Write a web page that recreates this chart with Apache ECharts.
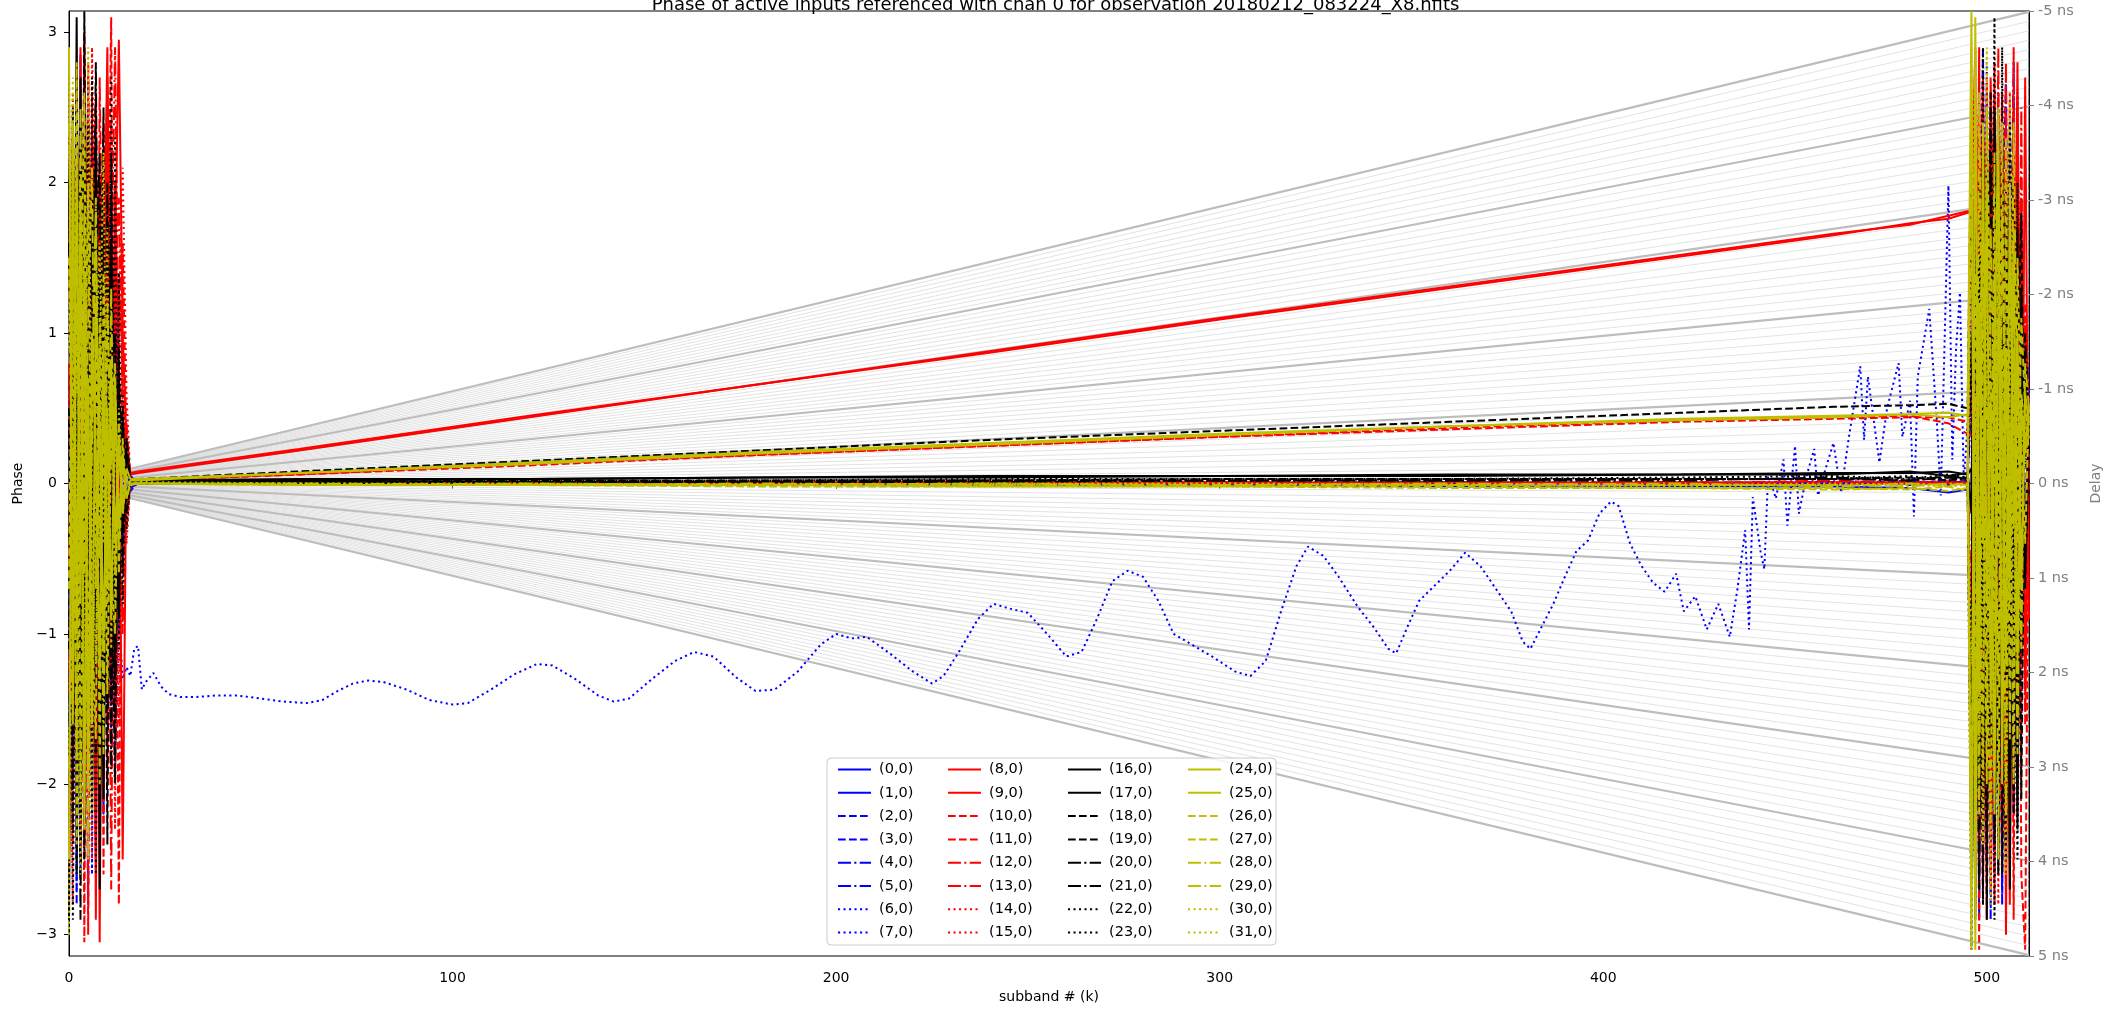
<!DOCTYPE html>
<html>
<head>
<meta charset="utf-8">
<script src="https://cdn.jsdelivr.net/npm/echarts@6/dist/echarts.min.js"></script>
<style>
  html, body { margin: 0; padding: 0; background: #fff; }
  #chart { width: 2111px; height: 1009px; }
</style>
</head>
<body>
<div id="chart"></div>
<script>
// input names, one per line in the legend
const inputNames = [];
for (let i = 0; i < 32; i++) inputNames.push('(' + i + ',0)');

// subbands where the flat middle part is sampled
const midK = [18, 60, 120, 180, 240, 300, 360, 420, 460, 480, 490, 495];

// phase at subbands 0..16 (noisy low edge)
const leftEdge = [
  [0, 0, 0, 0, 0, 0, 0, 0, 0, 0, 0, 0, 0, 0, 0, 0, 0],
  [0.4, -1.2, 2.1, -2.6, 1.5, -0.8, 2.4, -1.9, 0.6, -2.2, 1.1, -0.5, 0.9, -0.6, 0.3, -0.1, 0.05],
  [-0.9, 1.8, -2.8, 2.85, -1.4, 0.7, -2.0, 1.6, -0.3, 1.9, -1.2, 0.8, -1.5, 0.6, -0.4, 0.2, -0.05],
  [1.2, -0.4, 1.7, -2.3, 2.6, -1.1, 0.9, -2.5, 1.8, -0.6, 2.2, -1.7, 0.5, -1.0, 0.3, -0.2, 0.02],
  [-1.6, 2.3, -0.7, 1.4, -2.1, 2.7, -1.5, 0.4, -1.8, 1.3, -0.9, 1.9, -0.8, 0.7, -0.5, 0.1, -0.03],
  [0.7, -2.0, 1.3, -1.7, 0.9, -2.8, 1.6, -0.6, 2.0, -1.4, 0.6, -1.2, 1.4, -0.4, 0.2, -0.15, 0.0],
  [-0.3, 1.5, -1.9, 2.4, -0.5, 1.0, -2.6, 2.2, -1.1, 0.5, -1.8, 1.0, -0.7, 0.4, -0.25, 0.1, -0.02],
  [-2.2, 0.9, -2.7, 1.8, -1.0, 2.3, -0.8, 1.5, -2.3, 0.7, -1.6, 0.4, -1.9, -0.9, -1.30, -1.22, -1.28],
  [0.8, -1.5, 2.6, -0.9, 3.0, 0.5, 2.2, -2.9, 1.8, 0.9, 2.7, -1.2, 2.0, 0.6, -2.5, 0.3, 0.06],
  [-0.6, 2.0, -1.3, 2.9, -2.2, 1.7, 0.4, 2.5, -3.05, 1.2, 2.9, -0.4, 1.5, 2.95, 1.0, 0.25, 0.07],
  [1.9, -2.4, 0.6, 1.9, -3.05, 2.3, 1.4, 2.6, -0.8, 2.2, 1.1, 3.1, -1.7, 1.3, 0.9, -0.3, 0.02],
  [-1.4, 0.5, 2.8, -1.6, 1.1, -3.0, 2.6, 0.9, 2.0, -2.6, 1.8, 2.4, 0.7, -2.8, 1.6, 0.2, 0.01],
  [2.3, -0.8, 1.2, -2.4, 2.5, 1.0, -1.9, 1.9, 1.3, 2.4, -2.0, 1.2, 2.9, 0.8, -1.0, 0.4, 0.03],
  [-2.6, 1.4, -0.2, 2.2, -1.3, 2.8, 0.7, -2.4, 2.7, 0.6, 1.5, -2.7, 1.3, 1.9, 0.5, -0.2, 0.0],
  [0.2, 2.6, -2.1, 0.9, 1.8, -1.6, 2.9, 1.1, -2.2, 2.0, 0.4, 1.7, -2.3, 1.1, 2.1, 0.6, 0.02],
  [-0.9, -2.8, 1.6, -0.4, 2.2, 0.9, -2.5, 2.4, 0.8, -1.5, 2.6, 0.9, 1.8, -1.6, 0.8, -0.4, 0.0],
  [2.1, -1.0, 3.1, -2.2, 0.6, 1.9, -1.4, 2.3, -2.7, 0.8, -0.6, 1.6, -1.1, 0.5, -0.3, 0.2, 0.03],
  [-2.9, 1.3, -0.5, 2.7, -1.9, 0.4, 2.0, -0.9, 1.4, -2.1, 1.0, -0.8, 0.6, -0.9, 0.4, -0.1, 0.03],
  [0.5, -2.3, 1.8, -1.2, 3.14, -0.6, 1.1, -1.8, 0.3, 2.5, -1.5, 0.7, -1.3, 0.9, -0.6, 0.3, 0.02],
  [-1.1, 2.5, -2.6, 0.3, -0.9, 2.4, -2.2, 0.6, -1.2, 1.7, -2.4, 2.2, -0.5, 0.3, 0.5, -0.2, 0.01],
  [1.6, -0.3, 0.8, -2.9, 1.7, -1.3, 0.2, 2.8, -0.7, -1.6, 0.9, -1.9, 1.0, -0.4, 0.2, 0.1, 0.0],
  [-0.4, 1.1, -1.6, 2.0, -2.5, 0.9, -0.6, 1.3, 2.2, -0.9, 2.0, -0.3, -2.0, 0.7, -0.2, -0.1, 0.01],
  [2.7, -2.9, 0.4, 1.2, -0.2, -2.0, 2.7, -1.1, 0.5, 1.1, -0.4, 2.7, -1.6, 1.4, -0.8, 0.3, 0.0],
  [-1.8, 0.8, 2.3, -1.5, 2.4, -0.9, 1.5, -2.6, 1.9, -0.2, 1.3, -1.4, 2.3, -1.1, 0.6, -0.3, 0.01],
  [2.9, -1.6, 2.2, -0.8, 1.4, -2.0, 1.0, 0.2, -1.3, 0.9, -0.7, 0.8, -0.4, 0.3, -0.2, 0.1, 0.03],
  [-2.5, 2.4, -1.0, 1.9, -2.3, 0.7, -1.6, 1.2, 0.4, -1.1, 0.5, -0.9, 0.6, -0.3, 0.2, -0.1, 0.02],
  [1.5, -0.5, 2.8, -2.1, 0.3, 2.0, -0.9, -1.7, 1.1, 0.3, -1.4, 0.4, 0.8, -0.6, 0.3, -0.1, -0.01],
  [-0.7, 1.9, -2.4, 0.9, 2.6, -1.4, 0.6, 1.7, -2.0, 1.4, 0.2, -0.6, -1.0, 0.4, -0.2, 0.05, -0.01],
  [2.4, 0.3, -1.8, 2.5, -0.6, 1.1, 2.1, -0.7, 0.9, -1.8, 1.2, 0.1, 0.7, -0.4, 0.1, 0.0, 0.0],
  [-1.9, -0.9, 1.2, -0.2, 1.8, -2.5, 0.3, 1.9, -0.5, 0.6, -0.8, 1.3, -0.6, 0.2, -0.1, 0.05, 0.0],
  [0.9, 2.7, -0.4, -2.6, 1.0, 0.5, -2.2, 0.8, 1.6, -0.4, 1.7, -1.1, 0.3, -0.2, 0.15, 0.0, 0.0],
  [-3.0, 1.0, 0.6, 1.5, -1.7, 2.9, -0.3, -1.2, 0.7, 2.2, -0.3, 0.6, -0.8, 0.5, -0.1, 0.05, 0.0]
];

// phase at midK (input 7 uses waveTrack instead)
const midTracks = [
  [0, 0, 0, 0, 0, 0, 0, 0, 0, 0, 0, 0],
  [0.0, 0.0, -0.01, -0.01, -0.01, -0.01, -0.02, -0.02, -0.02, -0.03, -0.06, -0.04],
  [0.01, 0.0, 0.0, 0.01, 0.0, 0.0, 0.01, 0.0, 0.01, 0.0, 0.02, 0.0],
  [0.0, 0.01, 0.0, 0.0, 0.01, 0.0, 0.0, 0.01, 0.0, 0.02, -0.01, 0.01],
  [0.0, 0.0, 0.01, 0.0, 0.0, 0.01, 0.0, 0.0, 0.01, -0.01, 0.01, 0.0],
  [0.01, 0.0, 0.0, 0.0, 0.01, 0.0, 0.0, 0.0, -0.01, 0.01, 0.0, 0.02],
  [0.0, 0.0, 0.0, 0.01, 0.0, 0.0, 0.01, 0.0, 0.0, 0.01, 0.0, 0.0],
  null,
  [0.07, 0.22, 0.44, 0.66, 0.87, 1.09, 1.30, 1.51, 1.65, 1.73, 1.76, 1.80],
  [0.08, 0.23, 0.45, 0.66, 0.88, 1.10, 1.31, 1.52, 1.66, 1.72, 1.78, 1.81],
  [0.02, 0.06, 0.13, 0.19, 0.25, 0.31, 0.37, 0.42, 0.44, 0.45, 0.40, 0.33],
  [0.02, 0.06, 0.12, 0.19, 0.25, 0.31, 0.36, 0.41, 0.43, 0.44, 0.44, 0.41],
  [0.0, 0.01, 0.0, 0.01, 0.0, 0.01, 0.0, 0.01, 0.0, 0.01, 0.0, 0.01],
  [0.01, 0.0, 0.01, 0.0, 0.01, 0.0, 0.01, 0.0, 0.02, 0.0, 0.01, 0.0],
  [0.0, 0.0, 0.01, 0.01, 0.0, 0.0, 0.01, 0.01, 0.0, 0.02, 0.0, 0.01],
  [0.01, 0.01, 0.0, 0.0, 0.01, 0.01, 0.0, 0.0, 0.01, 0.0, 0.02, 0.0],
  [0.02, 0.02, 0.03, 0.04, 0.04, 0.05, 0.05, 0.06, 0.07, 0.07, 0.08, 0.06],
  [0.02, 0.03, 0.03, 0.04, 0.05, 0.05, 0.06, 0.06, 0.06, 0.08, 0.05, 0.07],
  [0.03, 0.08, 0.15, 0.22, 0.29, 0.35, 0.41, 0.47, 0.51, 0.52, 0.53, 0.50],
  [0.01, 0.01, 0.02, 0.02, 0.02, 0.03, 0.03, 0.03, 0.03, 0.04, 0.02, 0.04],
  [0.0, 0.01, 0.01, 0.01, 0.02, 0.02, 0.02, 0.03, 0.03, 0.02, 0.05, 0.03],
  [0.01, 0.0, 0.01, 0.01, 0.01, 0.02, 0.02, 0.02, 0.04, 0.02, 0.04, 0.02],
  [0.0, 0.01, 0.01, 0.02, 0.02, 0.02, 0.03, 0.03, 0.03, 0.05, 0.02, 0.03],
  [0.01, 0.01, 0.02, 0.02, 0.03, 0.03, 0.03, 0.04, 0.05, 0.03, 0.06, 0.04],
  [0.03, 0.07, 0.14, 0.21, 0.27, 0.33, 0.38, 0.43, 0.45, 0.46, 0.47, 0.45],
  [0.02, 0.07, 0.13, 0.20, 0.26, 0.32, 0.38, 0.42, 0.44, 0.46, 0.44, 0.46],
  [0.0, -0.01, -0.01, -0.02, -0.02, -0.02, -0.03, -0.03, -0.03, -0.04, -0.02, -0.05],
  [0.0, -0.01, -0.01, -0.01, -0.02, -0.02, -0.02, -0.03, -0.04, -0.03, -0.05, -0.03],
  [0.0, 0.0, -0.01, 0.0, -0.01, -0.01, 0.0, -0.01, -0.01, -0.02, 0.0, -0.01],
  [0.0, -0.01, 0.0, -0.01, 0.0, -0.01, -0.01, 0.0, -0.02, 0.0, -0.01, 0.0],
  [0.01, 0.0, 0.0, -0.01, 0.0, 0.0, -0.01, -0.01, 0.0, -0.01, -0.02, 0.0],
  [0.0, 0.0, -0.01, -0.01, -0.01, 0.0, -0.01, -0.02, -0.01, 0.0, -0.02, -0.01]
];

// input (7,0): the wandering dotted blue track, [subband, phase]
const waveTrack = [
  [17, -1.10], [18, -1.08], [19, -1.37], [20, -1.32], [22, -1.26], [24, -1.35], [26, -1.40], [29, -1.42],
  [33, -1.42], [38, -1.41], [44, -1.41], [50, -1.43], [56, -1.45], [62, -1.46], [66, -1.44], [70, -1.38],
  [74, -1.33], [78, -1.31], [82, -1.32], [88, -1.37], [94, -1.44], [100, -1.47], [104, -1.46], [110, -1.37],
  [116, -1.27], [122, -1.20], [126, -1.21], [132, -1.30], [138, -1.41], [142, -1.45], [146, -1.43], [152, -1.30],
  [158, -1.18], [163, -1.12], [168, -1.15], [174, -1.29], [179, -1.38], [184, -1.37], [190, -1.25], [196, -1.07],
  [200, -1.00], [204, -1.03], [208, -1.02], [214, -1.13], [220, -1.25], [225, -1.33], [228, -1.28], [232, -1.12],
  [237, -0.90], [241, -0.80], [245, -0.83], [250, -0.86], [255, -1.00], [260, -1.15], [264, -1.12], [268, -0.90],
  [272, -0.65], [276, -0.58], [280, -0.62], [284, -0.78], [288, -1.00], [292, -1.06], [298, -1.15], [304, -1.25],
  [308, -1.28], [312, -1.18], [316, -0.85], [320, -0.55], [323, -0.42], [327, -0.48], [331, -0.62], [336, -0.82],
  [340, -0.95], [344, -1.10], [346, -1.13], [349, -0.95], [352, -0.78], [356, -0.68], [360, -0.58], [364, -0.46],
  [368, -0.55], [372, -0.70], [376, -0.85], [379, -1.05], [381, -1.10], [384, -0.95], [387, -0.80], [390, -0.62],
  [393, -0.45], [396, -0.38], [399, -0.20], [402, -0.12], [404, -0.15], [407, -0.40], [410, -0.55], [413, -0.66],
  [416, -0.72], [419, -0.60], [421, -0.85], [424, -0.75], [427, -0.97], [430, -0.80], [433, -1.02], [435, -0.70],
  [437, -0.31], [438, -0.97], [439, -0.09], [441, -0.45], [442, -0.57], [443, 0.07], [445, -0.10], [447, 0.16],
  [448, -0.28], [450, 0.25], [451, -0.20], [453, 0.05], [455, 0.23], [456, -0.08], [458, 0.10], [460, 0.27],
  [462, -0.06], [464, 0.30], [467, 0.78], [468, 0.29], [469, 0.71], [472, 0.14], [474, 0.50], [477, 0.80],
  [478, 0.31], [480, 0.55], [481, -0.22], [482, 0.71], [485, 1.16], [487, 0.40], [488, -0.08], [490, 1.98],
  [491, 0.16], [492, 0.90], [493, 1.27], [494, 0.0], [495, 0.40]
];

// phase at subbands 496..511 (noisy high edge)
const rightEdge = [
  [0, 0, 0, 0, 0, 0, 0, 0, 0, 0, 0, 0, 0, 0, 0, 0],
  [-0.1, 2.1, -1.4, 0.6, -2.5, 1.8, 0.3, -1.9, 2.4, -0.7, 1.2, -2.2, 0.9, 0.5, -0.4, 0.6],
  [1.4, -2.6, 0.8, 2.9, -1.1, -0.3, 1.7, 2.2, -2.8, 0.4, -1.5, 1.9, -0.6, 1.0, 0.3, 0.5],
  [-2.0, 0.7, 2.5, -1.8, 1.3, -2.9, 0.4, -0.8, 1.6, 2.7, -0.9, 0.2, 1.4, -0.9, 0.7, 0.4],
  [0.6, -1.5, 1.9, -0.4, 2.6, -1.2, -2.6, 1.3, -0.3, -1.6, 2.3, -1.0, 2.0, 0.8, -0.5, 0.3],
  [-1.3, 1.6, -2.9, 1.1, -0.6, 0.9, 2.4, -1.5, 0.7, -2.4, 1.0, 2.8, -1.3, 0.4, 1.0, 0.6],
  [2.2, -0.6, 0.3, -2.2, 1.9, -1.7, 0.8, 2.6, -1.0, 0.5, -2.0, 1.5, -0.2, -0.8, 0.9, 0.5],
  [0.4, -2.3, 1.4, -0.9, 2.8, 0.2, -1.3, 0.9, -2.7, 1.8, 0.6, -1.7, 2.6, -0.3, 0.9, 0.7],
  [1.8, -0.5, 2.9, -2.7, 1.2, 2.4, -1.9, 0.7, 2.6, -3.0, 1.5, 0.3, 2.8, -1.2, 2.7, -0.9],
  [1.8, 2.9, -1.6, 0.9, -2.9, 2.7, 1.3, -2.4, 2.2, 0.5, -2.8, 2.5, -0.7, 1.9, -1.4, 0.5],
  [0.3, 2.6, -3.1, 2.5, 0.8, -2.2, 2.8, -0.4, -2.6, 2.4, -1.0, 2.9, -1.8, -0.6, 1.2, 0.4],
  [-1.7, 1.2, 2.2, -2.5, 2.7, -0.9, -2.8, 2.3, 1.0, -1.9, 2.6, -2.9, 2.4, -2.6, -3.1, 0.3],
  [2.5, -2.0, 0.5, 2.7, -1.6, 1.9, -0.3, 2.9, -2.3, 1.6, 0.2, -1.4, 2.2, 0.8, -0.5, 0.6],
  [-0.8, 1.9, -2.4, 1.6, 2.3, -2.7, 2.6, -1.1, 0.4, 2.8, -2.5, 1.1, -0.9, 2.5, -1.6, 0.4],
  [1.1, -2.8, 1.8, -1.3, 0.6, 2.6, -2.0, 1.5, -0.8, -2.7, 1.9, 0.6, -2.2, 1.4, 0.2, 0.5],
  [-2.4, 0.8, 2.7, 0.3, -2.1, 1.2, 2.0, -2.8, 1.7, 0.9, -1.2, 2.3, 0.5, -1.9, 1.1, 0.3],
  [0.1, -2.9, 1.5, -1.0, 2.2, -0.4, 1.1, -2.6, 0.6, 1.9, -1.5, 0.4, -2.3, 1.3, -0.6, 0.4],
  [-0.2, 1.7, -2.2, 2.3, -0.7, -1.8, 2.5, 0.1, -1.4, 2.0, -2.7, 1.6, 0.2, -1.0, 0.8, 0.3],
  [2.5, -1.1, 0.4, -2.8, 1.6, 2.1, -2.4, 1.0, -0.2, -1.3, 2.2, -0.8, 1.7, -2.1, 0.6, 0.4],
  [-1.5, 2.3, -0.6, 1.2, -2.9, 0.7, -0.9, 2.4, -2.6, 0.8, 1.3, -2.2, 0.7, 1.8, -0.7, 0.3],
  [1.0, -0.3, -2.7, 0.6, 1.9, -1.4, 0.5, -1.7, 2.3, -0.4, -2.0, 1.3, -1.6, 0.9, 0.4, 0.2],
  [-2.6, 1.5, 0.8, -1.6, 0.3, 2.6, -1.2, 1.8, -0.9, -2.5, 0.6, 2.0, -1.1, -0.3, 1.0, 0.4],
  [-3.1, 0.5, -1.3, 2.9, -1.9, 0.2, 3.1, -2.3, 2.9, -0.6, 1.1, -1.5, 2.0, -0.5, 0.3, 0.5],
  [0.8, -2.0, 2.0, -0.5, -2.4, 1.3, -2.9, 0.6, 1.2, -1.8, 2.4, -0.6, -2.5, 1.2, 0.1, 0.4],
  [3.14, -3.1, 1.2, -0.4, 2.0, -1.5, 0.7, 2.5, -2.0, 0.9, -0.6, 1.7, -1.2, 0.5, 0.2, 0.5],
  [-3.1, 3.1, -1.4, 2.4, -0.8, 0.6, -2.2, 1.1, 0.3, -1.2, 2.0, -0.3, 1.0, -0.7, 0.6, 0.4],
  [2.9, -2.6, 0.9, 1.6, -1.2, -2.3, 1.4, -0.5, 2.4, -0.9, 0.4, -2.0, 1.5, 0.3, -0.4, 0.5],
  [-2.8, 1.4, -0.3, -1.9, 2.5, 0.8, -1.0, 1.9, -1.6, 2.3, -1.7, 0.9, -0.4, 1.1, 0.5, 0.3],
  [2.2, -1.8, 2.6, 0.4, -2.0, 1.7, 0.2, -1.3, 0.9, -2.2, 1.4, 0.5, -1.8, 0.6, 0.3, 0.4],
  [-2.3, 0.6, -2.2, 1.3, 0.5, -0.7, 2.2, -2.5, 1.8, 0.1, -0.8, 2.4, 0.2, -1.1, 0.8, 0.5],
  [1.6, 2.9, -1.7, -0.6, 1.4, -2.8, 0.9, 0.4, -1.1, 1.5, 2.6, -1.3, 0.8, -0.2, 0.4, 0.3],
  [-1.2, -0.4, 1.9, -2.4, 2.9, 0.3, -1.5, 2.0, 0.6, -2.6, 0.7, 1.4, -0.9, 0.4, 0.1, 0.4]
];

// delay guide lines (ns) and tick positions
const delayMajor = [-5, -4, -3, -2, -1, 0, 1, 2, 3, 4, 5];
const phaseTicks = [-3, -2, -1, 0, 1, 2, 3];
const subbandTicks = [0, 100, 200, 300, 400, 500];

const colors = ['#0000ff', '#ff0000', '#000000', '#bfbf00'];
const dashes = ['solid', 'solid', [7.7, 3.3], [7.7, 3.3], [13, 3.3, 2.1, 3.3], [13, 3.3, 2.1, 3.3], [2.1, 3.4], [2.1, 3.4]];
const font = 'DejaVu Sans';
const lastK = 511;

// phase reached at the last subband for a given delay
const delayPhase = tau => -Math.PI * (tau / 5) * (lastK / 512);

const minorDelays = [];
for (let t = -50; t <= 50; t++) minorDelays.push(t / 10);

const series = [
  {
    type: 'lines', coordinateSystem: 'cartesian2d', silent: true, z: 1,
    lineStyle: { color: '#d9d9d9', width: 0.75, opacity: 1 },
    data: minorDelays.map(t => ({ coords: [[0, 0], [lastK, delayPhase(t)]] }))
  },
  {
    type: 'lines', coordinateSystem: 'cartesian2d', silent: true, z: 1,
    lineStyle: { color: '#bdbdbd', width: 2.2, opacity: 1 },
    data: delayMajor.map(t => ({ coords: [[0, 0], [lastK, delayPhase(t)]] }))
  }
];

inputNames.forEach((name, i) => {
  const pts = [];
  leftEdge[i].forEach((v, j) => pts.push([j, v]));
  if (i === 7) waveTrack.forEach(p => pts.push(p));
  else midK.forEach((k, j) => pts.push([k, midTracks[i][j]]));
  rightEdge[i].forEach((v, j) => pts.push([496 + j, v]));
  series.push({
    name: name,
    type: 'line',
    data: pts,
    showSymbol: false,
    symbol: 'none',
    z: 2,
    lineStyle: { color: colors[Math.floor(i / 8)], width: 2, type: dashes[i % 8] },
    itemStyle: { color: colors[Math.floor(i / 8)] }
  });
});

const legendX = [832, 942, 1062, 1182];
const legends = legendX.map((x, c) => ({
  orient: 'vertical',
  left: x,
  top: 757,
  itemWidth: 33,
  itemHeight: 14,
  itemGap: 8.3,
  selectedMode: false,
  z: 20,
  itemStyle: { opacity: 0 },
  data: inputNames.slice(c * 8, c * 8 + 8),
  textStyle: { fontFamily: font, fontSize: 14.5, color: '#000', lineHeight: 14, padding: [0, 0, 0, 3] }
}));

const chart = echarts.init(document.getElementById('chart'));
chart.setOption({
  animation: false,
  backgroundColor: '#fff',
  title: {
    text: 'Phase of active inputs referenced with chan 0 for observation 20180212_083224_X8.hfits',
    left: 'center',
    top: -9,
    textStyle: { fontFamily: font, fontSize: 18, fontWeight: 'normal', color: '#000' }
  },
  grid: { left: 69, right: 75, top: 11, bottom: 53, show: true, borderColor: '#000', borderWidth: 1, backgroundColor: 'transparent' },
  legend: legends,
  graphic: [{
    type: 'rect', z: 10,
    shape: { x: 827, y: 758, width: 449, height: 187, r: 4 },
    style: { fill: 'rgba(255,255,255,0.85)', stroke: '#cccccc', lineWidth: 1 }
  }],
  xAxis: {
    type: 'value', min: 0, max: lastK,
    name: 'subband # (k)', nameLocation: 'middle', nameGap: 34,
    nameTextStyle: { fontFamily: font, fontSize: 14, color: '#000' },
    axisLine: { lineStyle: { color: '#000' } },
    axisTick: { length: 5, customValues: subbandTicks, lineStyle: { color: '#000' } },
    axisLabel: { margin: 15, fontFamily: font, fontSize: 14, color: '#000', customValues: subbandTicks },
    splitLine: { show: false }
  },
  yAxis: [
    {
      type: 'value', min: -Math.PI, max: Math.PI,
      name: 'Phase', nameLocation: 'middle', nameGap: 42,
      nameTextStyle: { fontFamily: font, fontSize: 14, color: '#000' },
      axisLine: { show: true, lineStyle: { color: '#000' } },
      axisTick: { show: true, length: 5, customValues: phaseTicks, lineStyle: { color: '#000' } },
      axisLabel: {
        margin: 12, fontFamily: font, fontSize: 14, color: '#000',
        customValues: phaseTicks,
        formatter: v => String(v).replace('-', '\u2212')
      },
      splitLine: { show: false }
    },
    {
      type: 'value', min: -5, max: 5, interval: 1, inverse: true, position: 'right',
      name: 'Delay', nameLocation: 'middle', nameGap: 60,
      nameTextStyle: { fontFamily: font, fontSize: 14, color: '#808080' },
      axisLine: { show: true, lineStyle: { color: '#000' } },
      axisTick: { show: true, length: 5, lineStyle: { color: '#808080' } },
      axisLabel: { margin: 9, fontFamily: font, fontSize: 14.5, color: '#808080', formatter: v => v + ' ns' },
      splitLine: { show: false }
    }
  ],
  series: series
});
</script>
</body>
</html>
